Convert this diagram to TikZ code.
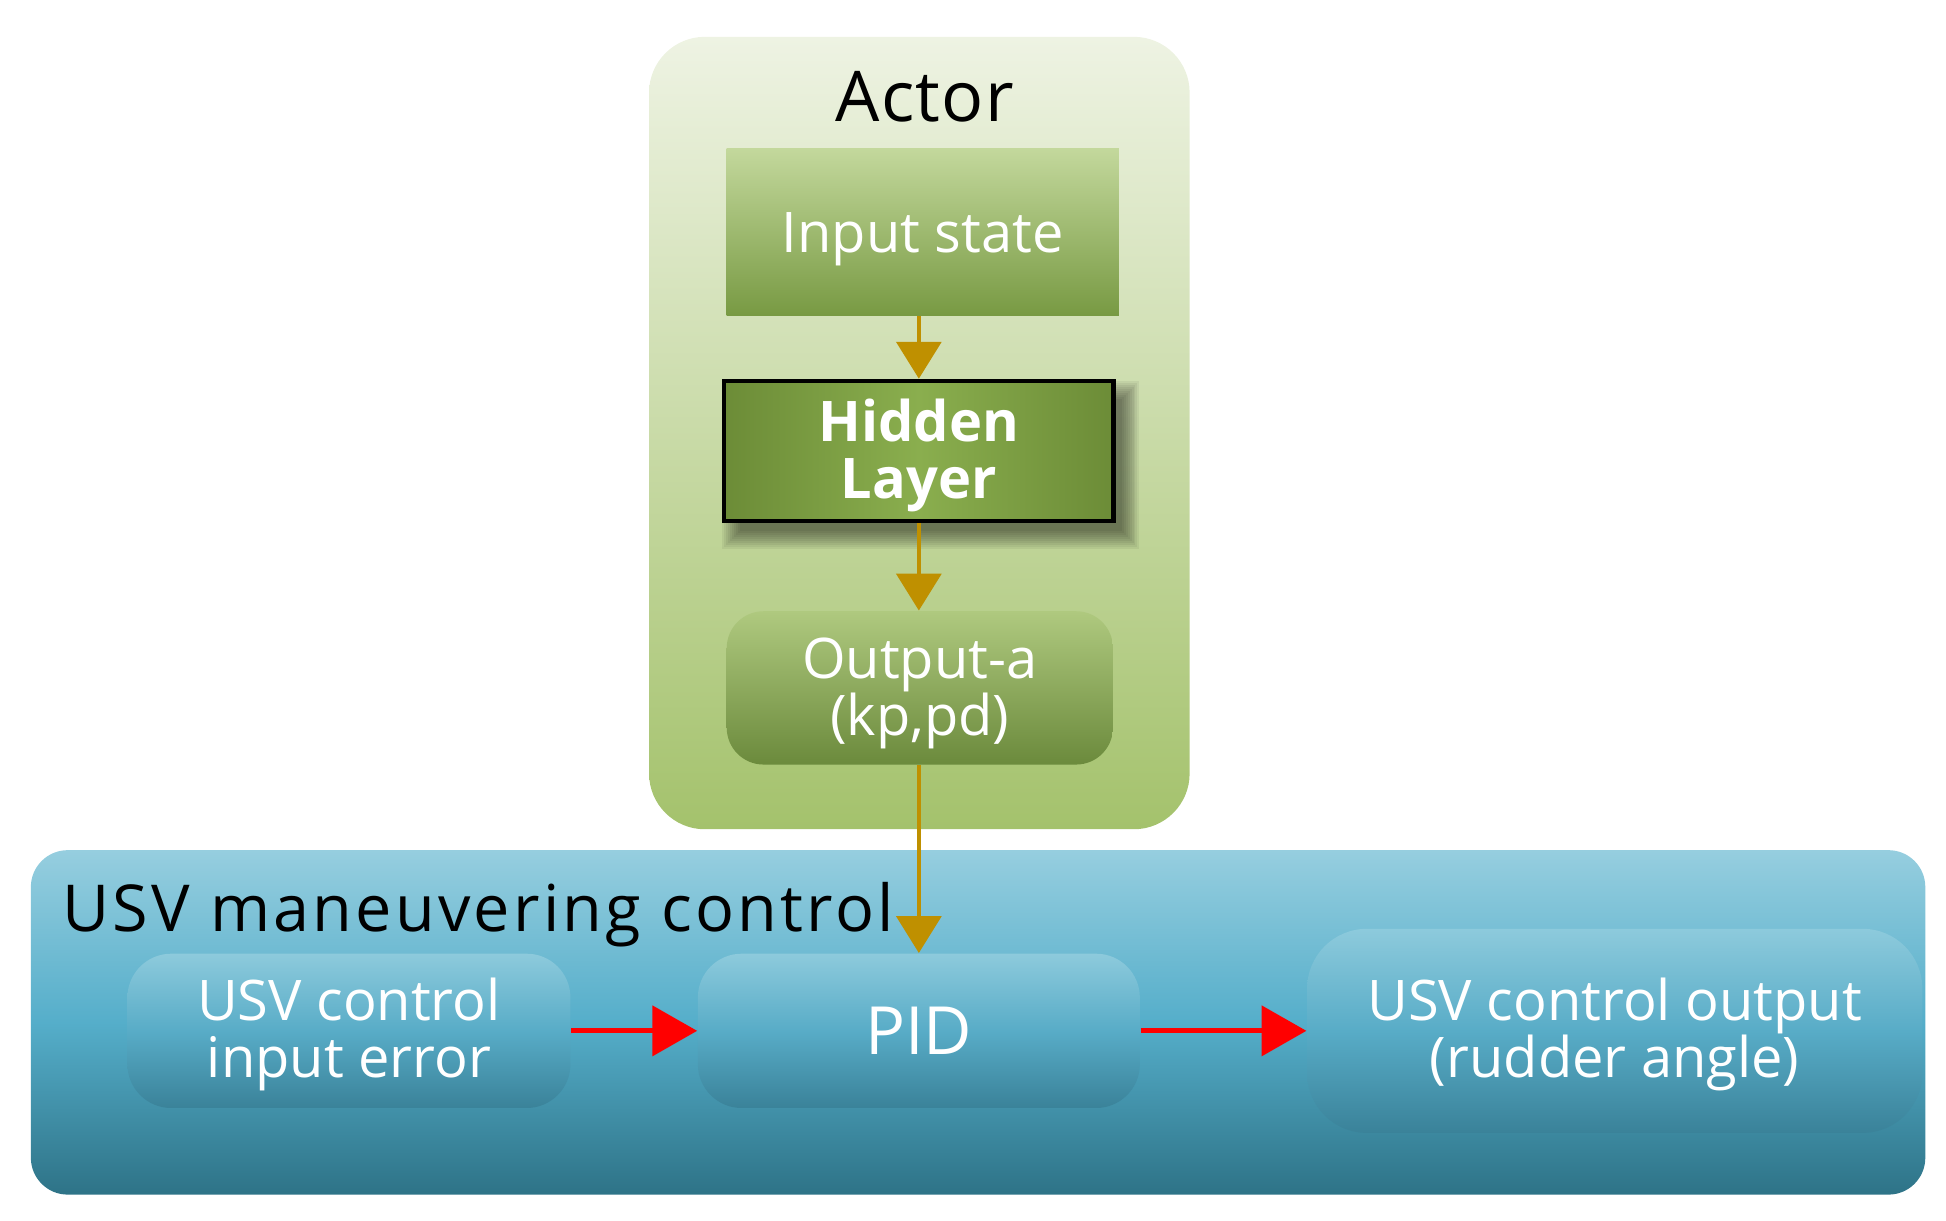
\documentclass[tikz,border=0pt]{standalone}
\usepackage{fontspec}
\setmainfont{Open Sans}
\usetikzlibrary{arrows.meta,calc}
\pgfdeclarelayer{bg}
\pgfdeclarelayer{shadowlayer}
\pgfsetlayers{bg,shadowlayer,main}
\definecolor{actTop}{HTML}{EEF3E3}
\definecolor{actBot}{HTML}{A4C26C}
\definecolor{inTop}{HTML}{C3D89C}
\definecolor{inBot}{HTML}{789A43}
\definecolor{hidEdge}{HTML}{6C8C37}
\definecolor{hidMid}{HTML}{8AAE4E}
\definecolor{outTop}{HTML}{AFC97F}
\definecolor{outBot}{HTML}{6B8A3C}
\definecolor{usvTop}{HTML}{96CEDF}
\definecolor{usvMid}{HTML}{55AECA}
\definecolor{usvBot}{HTML}{2E7387}
\definecolor{boxTop}{HTML}{8DCADC}
\definecolor{boxMid}{HTML}{58ACC7}
\definecolor{boxBot}{HTML}{3A8299}
\definecolor{goldarrow}{HTML}{BF9000}
\begin{document}
\begin{tikzpicture}[x=0.1mm,y=-0.1mm,
  greenbox/.style={inner sep=0pt},
  bluebox/.style={inner sep=0pt, rounded corners=4.4mm,
    top color=boxTop, bottom color=boxBot, middle color=boxMid},
  boxtext/.style={inner sep=0pt, text=white, align=center,
    font=\fontsize{16}{16.3}\selectfont},
  goldarr/.style={draw=goldarrow, line width=1.1pt,
    -{Triangle[width=4.5mm,length=3.7mm]}, goldarrow},
  redarr/.style={draw=red, line width=1.4pt,
    -{Triangle[width=5mm,length=4.5mm]}, red}]
\useasboundingbox (0,0) rectangle (1954.8,1226.5);
% containers
\begin{pgfonlayer}{bg}
\node[minimum width=54.3mm, minimum height=79.6mm, rounded corners=5.6mm,
  top color=actTop, bottom color=actBot, middle color=actTop!50!actBot, inner sep=0pt]
  (actor) at (923.5,435) {};
\node[minimum width=190.3mm, minimum height=34.6mm, rounded corners=3.7mm,
  top color=usvTop, bottom color=usvBot, middle color=usvMid, inner sep=0pt]
  (usv) at (982.5,1027) {};
\end{pgfonlayer}
% titles
\node[font=\fontsize{20}{24}\selectfont\addfontfeature{LetterSpace=2}, inner sep=0pt]
  (actortitle) at (929,97) {Actor};
\node[font=\fontsize{18.5}{22}\selectfont\addfontfeature{LetterSpace=5}, anchor=base west, inner sep=0pt]
  (usvtitle) at (62,936) {USV maneuvering control};
% actor nodes
\node[greenbox, minimum width=39.4mm, minimum height=16.7mm,
  top color=inTop, bottom color=inBot] (input) at (927,233) {};
\node[boxtext] (inputtext) at ($(input.center)+(0,7.5)$) {Input state};
\node[greenbox, minimum width=39.1mm, minimum height=14.1mm, draw=black, line width=1.2pt,
  left color=hidEdge, right color=hidEdge, middle color=hidMid] (hidden) at (923,453) {};
\node[boxtext, font=\bfseries\fontsize{16}{16.3}\selectfont] (hiddentext)
  at ($(hidden.center)+(0,4.5)$) {Hidden\\Layer};
\begin{pgfonlayer}{shadowlayer}
\foreach \i in {-6,-4,...,12}
  \fill[black, opacity=0.055]
    ($(hidden.north west)+(12-\i,14-\i)$) rectangle ($(hidden.south east)+(12+\i,14+\i)$);
\end{pgfonlayer}
\node[greenbox, minimum width=38.8mm, minimum height=15.4mm, rounded corners=3.7mm,
  top color=outTop, bottom color=outBot] (output) at (924,691) {};
\node[boxtext] (outputtext) at ($(output.center)+(0,6)$) {Output-a\\(kp,pd)};
% usv nodes
\node[bluebox, minimum width=44.5mm, minimum height=15.5mm] (inerr) at (350.5,1035.5) {};
\node[boxtext] (inerrtext) at ($(inerr.center)+(0,4)$) {USV control\\input error};
\node[bluebox, minimum width=44.4mm, minimum height=15.5mm] (pid) at (923,1035.5) {};
\node[boxtext, font=\fontsize{19}{20}\selectfont] (pidtext) at (pid.center) {PID};
\node[bluebox, minimum width=61.8mm, minimum height=20.5mm, rounded corners=6mm]
  (usvout) at (1622,1035.5) {};
\node[boxtext] (usvouttext) at ($(usvout.center)+(0,4)$) {USV control output\\(rudder angle)};
% arrows
\draw[goldarr] (input.south -| hidden.north) -- (hidden.north);
\draw[goldarr] (hidden.south) -- (hidden.south |- output.north);
\draw[goldarr] (output.south -| pid.north) -- (pid.north);
\draw[redarr] (inerr.east) -- (pid.west);
\draw[redarr] (pid.east) -- (usvout.west);
\end{tikzpicture}
\end{document}
